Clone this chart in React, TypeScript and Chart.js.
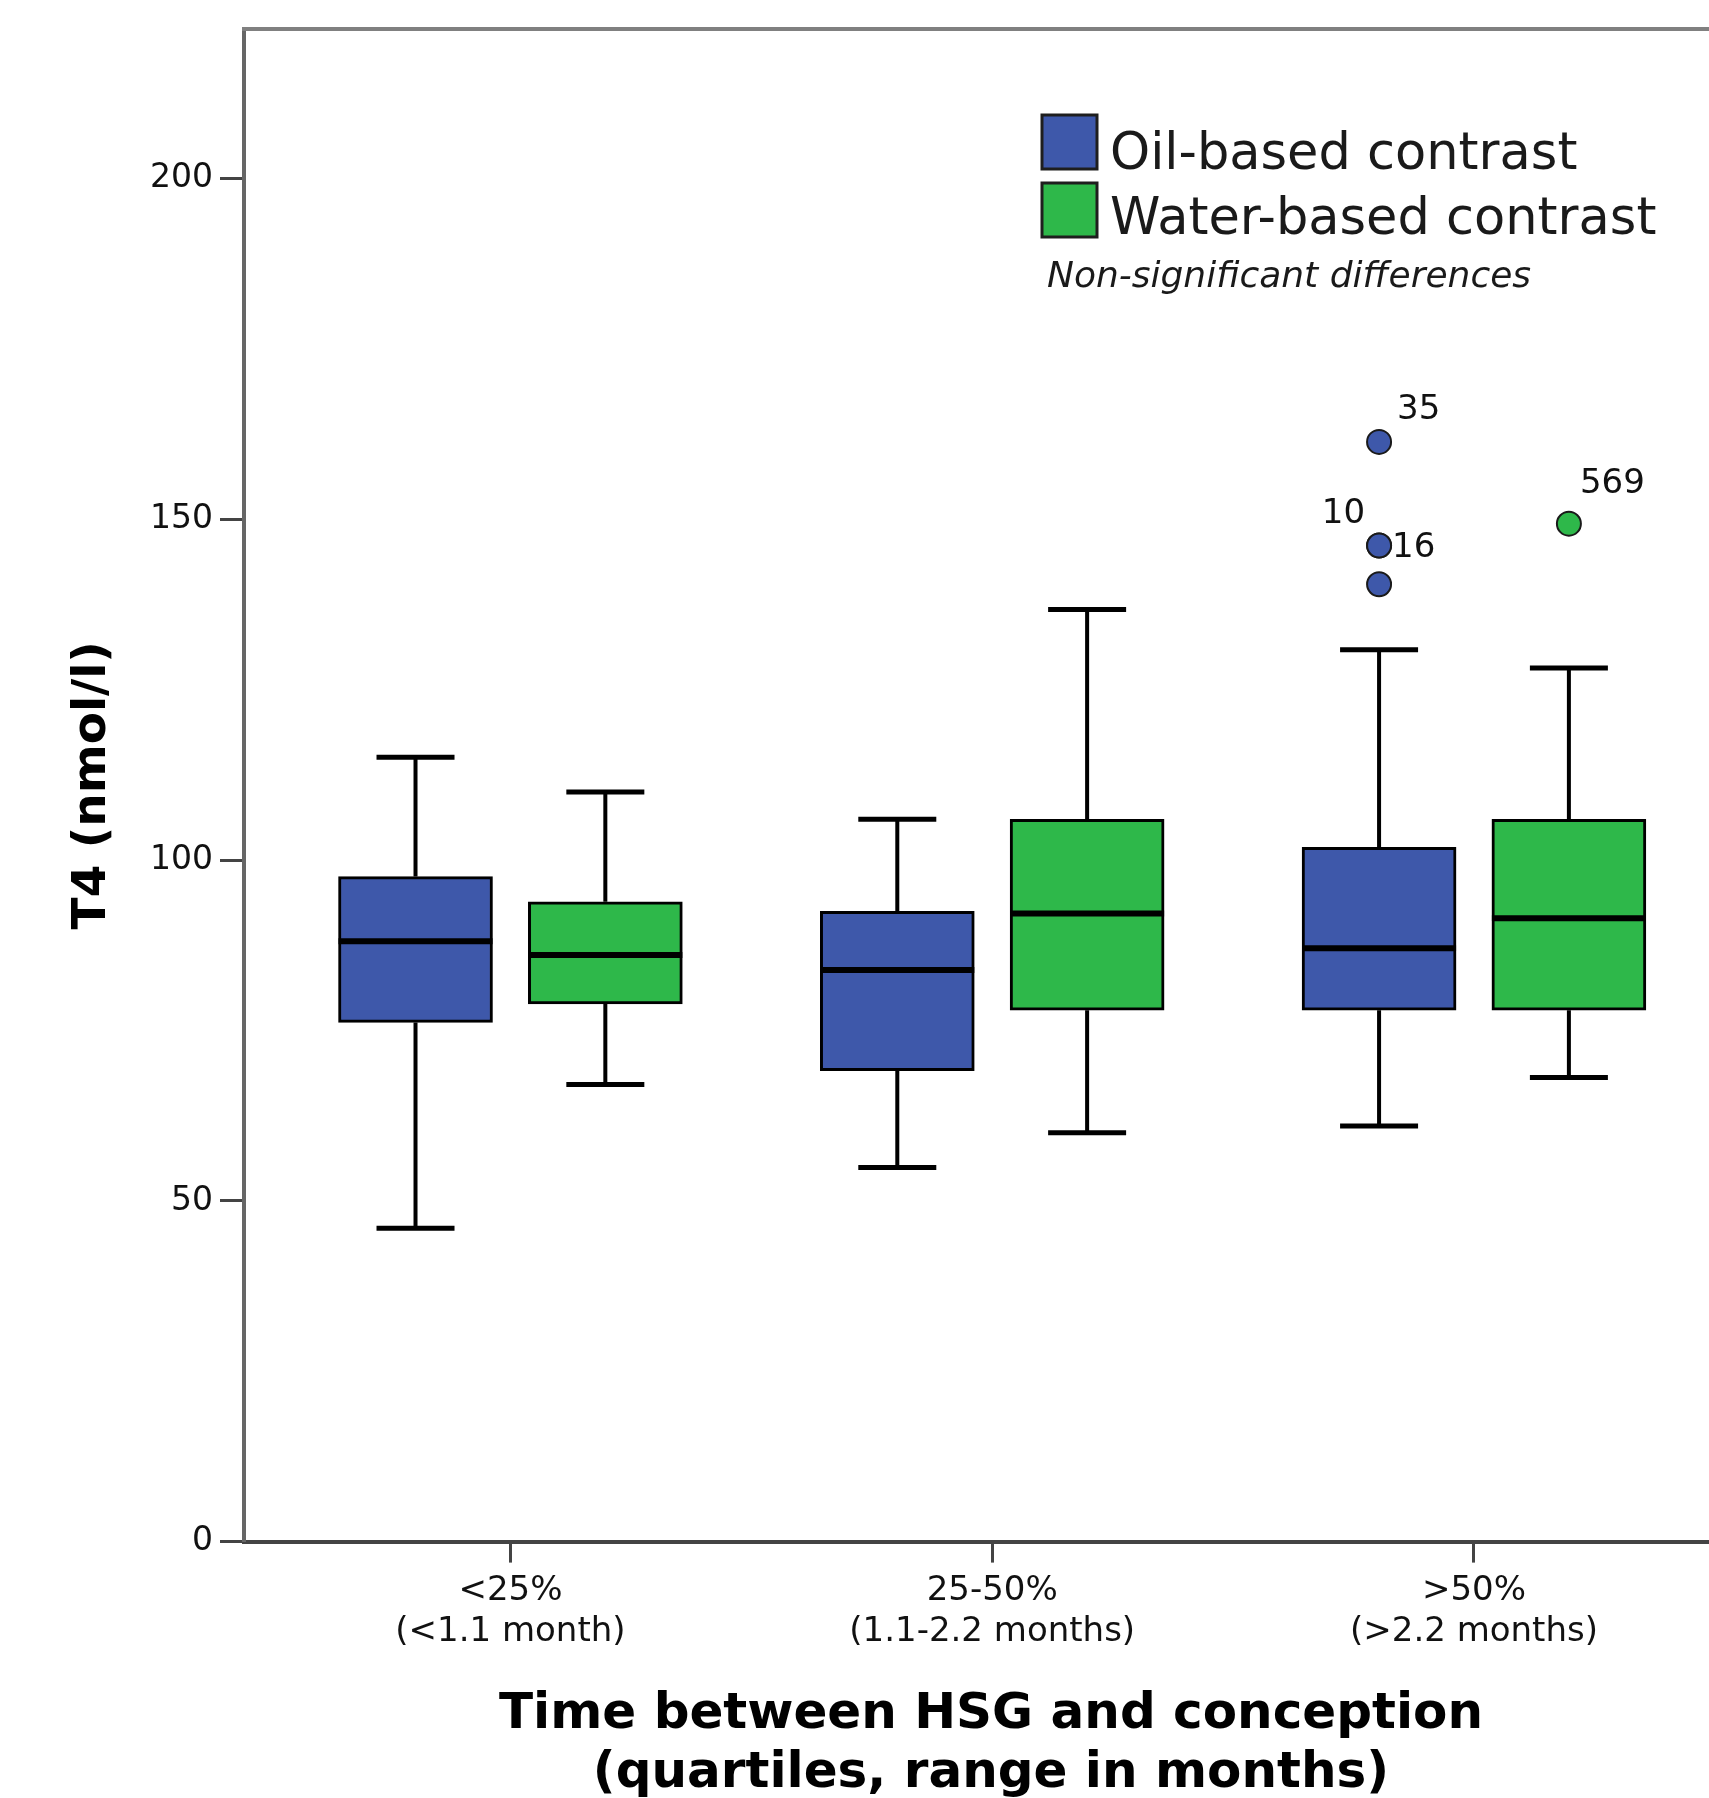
import React, { useEffect, useRef } from 'react';
import { Chart, registerables } from 'chart.js';

Chart.register(...registerables);

// ---------- data ----------
const categoryTop = ['<25%', '25-50%', '>50%'];
const categoryBottom = ['(<1.1 month)', '(1.1-2.2 months)', '(>2.2 months)'];
const categoryPos = [1, 2, 3];
const seriesNames = ['Oil-based contrast', 'Water-based contrast'];
const noteText = 'Non-significant differences';
const yTitle = 'T4 (nmol/l)';
const xTitle = ['Time between HSG and conception', '(quartiles, range in months)'];
const yTicks = [0, 50, 100, 150, 200];

const oilMin = [46.0, 54.9, 61.0];
const oilQ1 = [76.2, 69.1, 78.0];
const oilMedian = [88.1, 83.9, 87.1];
const oilQ3 = [97.6, 92.5, 101.9];
const oilMax = [115.1, 106.0, 130.9];

const waterMin = [67.1, 60.0, 68.1];
const waterQ1 = [78.9, 78.0, 78.0];
const waterMedian = [86.1, 92.2, 91.5];
const waterQ3 = [93.9, 106.0, 106.0];
const waterMax = [110.0, 136.8, 128.2];

const oilOutlierGroup = [2, 2, 2, 2];
const oilOutlierValue = [161.4, 146.2, 146.2, 140.5];
const oilOutlierLabel = ['35', '10', '16', ''];
const waterOutlierGroup = [2];
const waterOutlierValue = [149.4];
const waterOutlierLabel = ['569'];

// ---------- styling ----------
const BLUE = '#3e58aa';
const GREEN = '#2eb84a';
const FONT = "'DejaVu Sans', sans-serif";
const W = 1760;
const H = 1830;
const AXIS_Y = 1541.6;
const seriesOffset = [-0.197, 0.197];
const BOX_W = 154;
const CAP_HALF = 39;
// label offsets (px) relative to outlier point centre: [dx, dy, align]
const labelOffsets: Record<string, [number, number, CanvasTextAlign]> = {
  '35': [18, -23, 'left'],
  '10': [-14, -22, 'right'],
  '16': [13, 12, 'left'],
  '569': [11, -31, 'left'],
};

const series = [
  { min: oilMin, q1: oilQ1, med: oilMedian, q3: oilQ3, max: oilMax, color: BLUE },
  { min: waterMin, q1: waterQ1, med: waterMedian, q3: waterQ3, max: waterMax, color: GREEN },
];

const outliers = [
  { group: oilOutlierGroup, value: oilOutlierValue, label: oilOutlierLabel, s: 0 },
  { group: waterOutlierGroup, value: waterOutlierValue, label: waterOutlierLabel, s: 1 },
];

const extras = {
  id: 'boxExtras',
  beforeDatasetsDraw(chart: any) {
    const { ctx, scales } = chart;
    const x = scales.x;
    const y = scales.y;
    ctx.save();
    ctx.strokeStyle = '#000';
    ctx.lineCap = 'butt';
    series.forEach((s, si) => {
      categoryPos.forEach((c, i) => {
        const px = x.getPixelForValue(c + seriesOffset[si]);
        const pMax = y.getPixelForValue(s.max[i]);
        const pMin = y.getPixelForValue(s.min[i]);
        ctx.lineWidth = 4;
        ctx.beginPath();
        ctx.moveTo(px, y.getPixelForValue(s.q3[i]));
        ctx.lineTo(px, pMax);
        ctx.moveTo(px, y.getPixelForValue(s.q1[i]));
        ctx.lineTo(px, pMin);
        ctx.stroke();
        ctx.lineWidth = 5;
        ctx.beginPath();
        ctx.moveTo(px - CAP_HALF, pMax);
        ctx.lineTo(px + CAP_HALF, pMax);
        ctx.moveTo(px - CAP_HALF, pMin);
        ctx.lineTo(px + CAP_HALF, pMin);
        ctx.stroke();
      });
    });
    ctx.restore();
  },
  afterDatasetsDraw(chart: any) {
    const { ctx, scales } = chart;
    const x = scales.x;
    const y = scales.y;
    ctx.save();
    ctx.strokeStyle = '#000';
    ctx.lineWidth = 6;
    series.forEach((s, si) => {
      categoryPos.forEach((c, i) => {
        const px = x.getPixelForValue(c + seriesOffset[si]);
        const pm = y.getPixelForValue(s.med[i]);
        ctx.beginPath();
        ctx.moveTo(px - BOX_W / 2, pm);
        ctx.lineTo(px + BOX_W / 2, pm);
        ctx.stroke();
      });
    });
    ctx.fillStyle = '#111';
    ctx.font = `34px ${FONT}`;
    ctx.textBaseline = 'alphabetic';
    outliers.forEach((o) => {
      o.value.forEach((v, i) => {
        const lab = o.label[i];
        if (!lab) return;
        const off = labelOffsets[lab] || [12, 0, 'left'];
        const px = x.getPixelForValue(categoryPos[o.group[i]] + seriesOffset[o.s]);
        const py = y.getPixelForValue(v);
        ctx.textAlign = off[2];
        ctx.fillText(lab, px + off[0], py + off[1]);
      });
    });
    ctx.restore();
  },
  afterDraw(chart: any) {
    const { ctx, chartArea } = chart;
    ctx.save();
    // top frame line
    ctx.strokeStyle = '#808080';
    ctx.lineWidth = 4;
    ctx.beginPath();
    ctx.moveTo(chartArea.left - 2, chartArea.top);
    ctx.lineTo(chartArea.right, chartArea.top);
    ctx.stroke();
    // legend
    const lx = 1042;
    const rows = [
      { top: 115, base: 169 },
      { top: 183, base: 234 },
    ];
    rows.forEach((r, i) => {
      ctx.fillStyle = series[i].color;
      ctx.fillRect(lx, r.top, 55, 54);
      ctx.strokeStyle = '#1e1e1e';
      ctx.lineWidth = 3;
      ctx.strokeRect(lx, r.top, 55, 54);
      ctx.fillStyle = '#1a1a1a';
      ctx.font = `51px ${FONT}`;
      ctx.textAlign = 'left';
      ctx.textBaseline = 'alphabetic';
      ctx.fillText(seriesNames[i], lx + 68, r.base);
    });
    ctx.font = `italic 36px ${FONT}`;
    ctx.fillStyle = '#1a1a1a';
    ctx.fillText(noteText, 1047, 287);
    ctx.restore();
  },
};

export default function App() {
  const ref = useRef<HTMLCanvasElement>(null);
  useEffect(() => {
    const canvas = ref.current;
    if (!canvas) return;
    const boxData = (s: number) =>
      categoryPos.map((c, i) => ({ x: c + seriesOffset[s], y: [series[s].q1[i], series[s].q3[i]] }));
    const outlierData = (k: number) =>
      outliers[k].value.map((v, i) => ({ x: categoryPos[outliers[k].group[i]] + seriesOffset[outliers[k].s], y: v }));

    const chart = new Chart(canvas, {
      type: 'bar',
      data: {
        datasets: [
          {
            type: 'bar',
            label: seriesNames[0],
            data: boxData(0) as any,
            backgroundColor: BLUE,
            borderColor: '#000',
            borderWidth: 3,
            borderSkipped: false,
            grouped: false,
            barThickness: BOX_W,
          },
          {
            type: 'bar',
            label: seriesNames[1],
            data: boxData(1) as any,
            backgroundColor: GREEN,
            borderColor: '#000',
            borderWidth: 3,
            borderSkipped: false,
            grouped: false,
            barThickness: BOX_W,
          },
          {
            type: 'scatter',
            label: seriesNames[0] + ' outliers',
            data: outlierData(0) as any,
            backgroundColor: BLUE,
            borderColor: '#1a1a1a',
            borderWidth: 2,
            pointRadius: 12,
          },
          {
            type: 'scatter',
            label: seriesNames[1] + ' outliers',
            data: outlierData(1) as any,
            backgroundColor: GREEN,
            borderColor: '#1a1a1a',
            borderWidth: 2,
            pointRadius: 12,
          },
        ] as any,
      },
      options: {
        responsive: false,
        animation: false,
        events: [],
        layout: { padding: { top: 29, right: 22, left: 0, bottom: 0 } },
        plugins: { legend: { display: false }, tooltip: { enabled: false } },
        scales: {
          x: {
            type: 'linear',
            min: 0.447,
            max: 3.548,
            offset: false,
            afterBuildTicks: (s: any) => {
              s.ticks = categoryPos.map((v) => ({ value: v }));
            },
            afterFit: (s: any) => {
              s.height = H - AXIS_Y;
            },
            ticks: {
              callback: (v: any) => {
                const i = categoryPos.indexOf(Number(v));
                return i >= 0 ? [categoryTop[i], categoryBottom[i]] : '';
              },
              font: { family: FONT, size: 34, lineHeight: 1.18 },
              color: '#111',
              padding: 9,
              maxRotation: 0,
              autoSkip: false,
            },
            grid: {
              offset: false,
              drawOnChartArea: false,
              drawTicks: true,
              tickLength: 21,
              tickWidth: 3,
              tickColor: '#444',
            },
            border: { display: true, color: '#444', width: 4 },
            title: {
              display: true,
              text: xTitle,
              color: '#000',
              font: { family: FONT, size: 50, weight: 'bold', lineHeight: 1.18 },
              padding: { top: 0, bottom: 26 },
            },
          },
          y: {
            type: 'linear',
            min: 0,
            max: 222,
            afterBuildTicks: (s: any) => {
              s.ticks = yTicks.map((v) => ({ value: v }));
            },
            afterFit: (s: any) => {
              s.width = 244;
            },
            ticks: {
              font: { family: FONT, size: 33 },
              color: '#111',
              padding: 7,
            },
            grid: {
              drawOnChartArea: false,
              drawTicks: true,
              tickLength: 24,
              tickWidth: 3,
              tickColor: '#444',
            },
            border: { display: true, color: '#666', width: 4 },
            title: {
              display: true,
              text: yTitle,
              color: '#000',
              font: { family: FONT, size: 47, weight: 'bold', lineHeight: 1.2 },
              padding: { top: 65, bottom: 0 },
            },
          },
        },
      } as any,
      plugins: [extras],
    });
    return () => chart.destroy();
  }, []);

  return (
    <div
      style={{
        position: 'absolute',
        left: 0,
        top: 0,
        width: 1709,
        height: 1798,
        overflow: 'hidden',
        background: '#fff',
      }}
    >
      <canvas ref={ref} width={W} height={H} style={{ width: W, height: H, display: 'block' }} />
    </div>
  );
}
